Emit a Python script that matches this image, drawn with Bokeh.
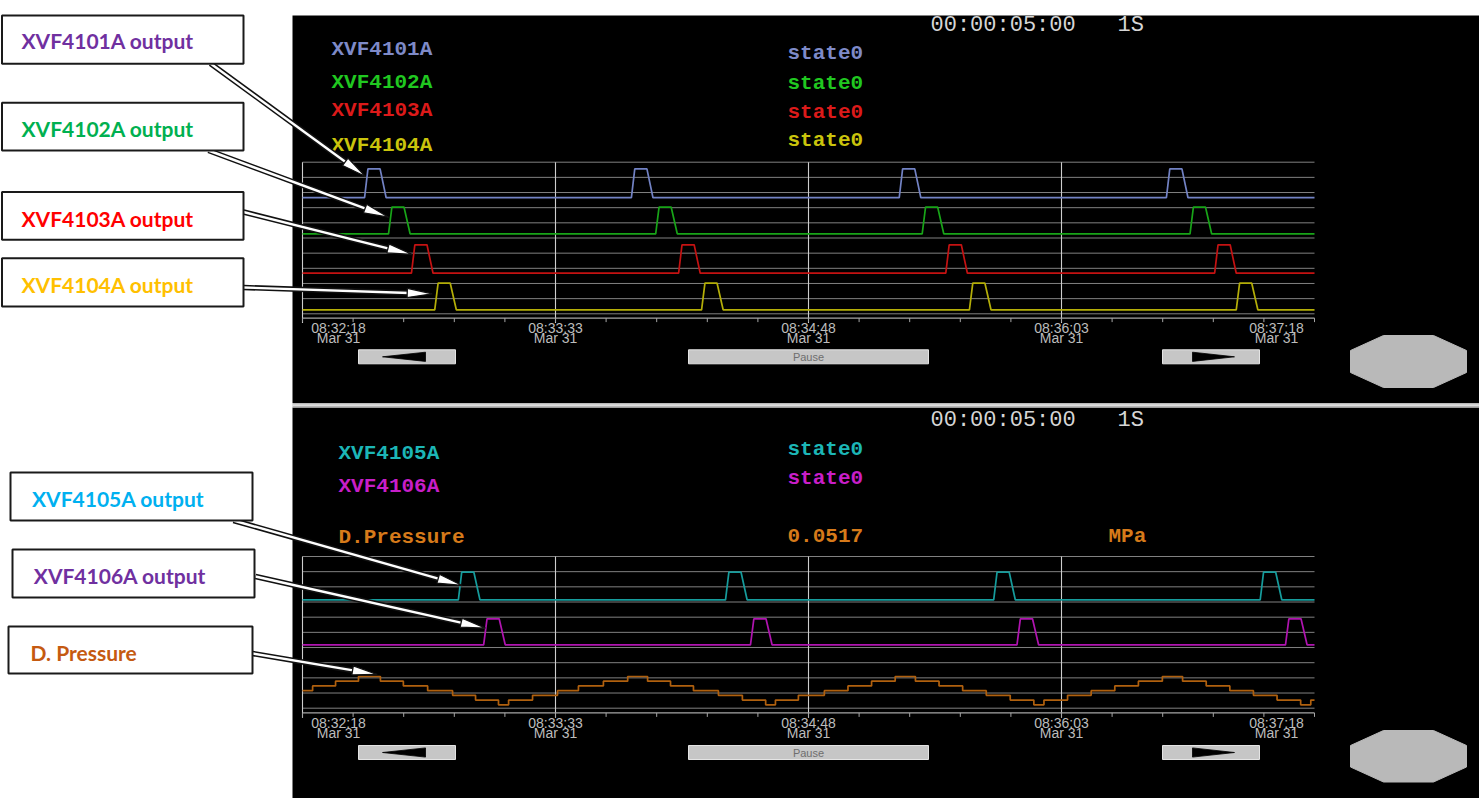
from datetime import datetime, timedelta
from bokeh.plotting import figure
from bokeh.models import Range1d, ColumnDataSource
from bokeh.core.properties import value
from bokeh.embed import file_html
from bokeh.resources import INLINE

# ---------------------------------------------------------------- data
window_start = datetime(2024, 3, 31, 8, 32, 18)
window_seconds = 300
clock_text = "00:00:05:00"
rate_text = "1S"

minor_tick_seconds = [0, 15, 30, 45, 60, 75, 90, 105, 120, 135, 150, 165, 180,
                      195, 210, 225, 240, 255, 270, 285, 300]
major_tick_seconds = [0, 75, 150, 225, 300]
major_time_labels = ["08:32:18", "08:33:33", "08:34:48", "08:36:03", "08:37:18"]
major_date_labels = ["Mar 31", "Mar 31", "Mar 31", "Mar 31", "Mar 31"]

top_pen_names = ["XVF4101A", "XVF4102A", "XVF4103A", "XVF4104A"]
top_pen_states = ["state0", "state0", "state0", "state0"]
bottom_pen_names = ["XVF4105A", "XVF4106A"]
bottom_pen_states = ["state0", "state0"]
pressure_name = "D.Pressure"
pressure_current = "0.0517"
pressure_unit = "MPa"

callout_labels = ["XVF4101A output", "XVF4102A output", "XVF4103A output",
                  "XVF4104A output", "XVF4105A output", "XVF4106A output",
                  "D. Pressure"]

# valve outputs: seconds after window start, and on/off state
pulse_states = [0, 0, 1, 1, 0, 0, 1, 1, 0, 0, 1, 1, 0, 0, 1, 1, 0, 0]
xvf4101a_t = [0, 18.4, 19.4, 23.0, 24.8, 97.5, 98.5, 102.1, 103.9, 176.9, 177.9,
              181.5, 183.3, 256.1, 257.1, 260.7, 262.5, 300]
xvf4102a_t = [0, 25.5, 26.5, 30.1, 31.9, 104.7, 105.7, 109.3, 111.1, 183.7, 184.7,
              188.3, 190.1, 263.1, 264.1, 267.7, 269.5, 300]
xvf4103a_t = [0, 32.3, 33.3, 36.9, 38.7, 111.5, 112.5, 116.1, 117.9, 190.7, 191.7,
              195.3, 197.1, 270.4, 271.4, 275.0, 276.8, 300]
xvf4104a_t = [0, 39.2, 40.2, 43.8, 45.6, 118.3, 119.3, 122.9, 124.7, 197.7, 198.7,
              202.3, 204.1, 276.8, 277.8, 281.4, 283.2, 300]
xvf4105a_t = [0, 46.2, 47.2, 50.8, 52.6, 125.4, 126.4, 130.0, 131.8, 204.9, 205.9,
              209.5, 211.3, 283.9, 284.9, 288.5, 290.3, 300]
xvf4106a_t = [0, 53.7, 54.7, 58.3, 60.1, 132.8, 133.8, 137.4, 139.2, 211.8, 212.8,
              216.4, 218.2, 291.4, 292.4, 296.0, 297.8, 300]

# differential pressure (MPa), step changes
pressure_t = [0, 3.0, 9.8, 16.6, 23.1, 29.9, 37.1, 44.5, 51.3, 58.1,
              61.1, 68.2, 75.6, 81.8, 89.2, 96.4, 102.3, 109.1, 115.9, 123.3, 130.4, 137.3,
              140.2, 147.0, 154.7, 161.7, 168.7, 175.7, 181.7, 188.7, 195.7, 202.7, 209.8, 216.8,
              219.8, 226.8, 233.8, 240.8, 247.8, 254.9, 260.9, 267.9, 274.9, 281.9, 288.9, 295.9,
              298.9, 300]
pressure_mpa = [0.0518, 0.0520, 0.0522, 0.0524, 0.0522, 0.0520, 0.0518, 0.0516, 0.0514, 0.0512,
                0.0514, 0.0516, 0.0518, 0.0520, 0.0522, 0.0524, 0.0522, 0.0520, 0.0518, 0.0516, 0.0514, 0.0512,
                0.0514, 0.0516, 0.0518, 0.0520, 0.0522, 0.0524, 0.0522, 0.0520, 0.0518, 0.0516, 0.0514, 0.0512,
                0.0514, 0.0516, 0.0518, 0.0520, 0.0522, 0.0524, 0.0522, 0.0520, 0.0518, 0.0516, 0.0514, 0.0512,
                0.0514, 0.0514]

# ---------------------------------------------------------------- layout / style
W, H = 1479, 798
OX, OY = 0, 0                       # canvas pixel of the figure's top-left corner
T_PX0, T_PX1 = 302.0, 1314.0        # trend time axis extent (px)
MONO = value("Liberation Mono")
SANS = value("Liberation Sans")
CALLOUT_FONT = value("Lato")

PANELS = {
    "top": dict(grid_top=161.7, grid_bot=313.3, axis=317.6, tick_end=321.6, vline_end=322.5,
                lab1=327.0, lab2=337.5, btn_top=349.3, btn_bot=363.3,
                oct_top=335.0, oct_bot=387.0, clock=25.0),
    "bot": dict(grid_top=556.0, grid_bot=707.7, axis=712.4, tick_end=716.4, vline_end=717.3,
                lab1=722.0, lab2=732.5, btn_top=745.0, btn_bot=759.0,
                oct_top=730.0, oct_bot=781.5, clock=420.0),
}
PEN_STYLE = {   # name: (panel px for state 0, px for state 1, line colour, text colour)
    "XVF4101A": (197.2, 168.4, "#7282c4", "#7e8ac8"),
    "XVF4102A": (233.3, 206.7, "#18a418", "#20c820"),
    "XVF4103A": (272.7, 244.3, "#c41212", "#dc1a1a"),
    "XVF4104A": (309.3, 282.7, "#b4ae08", "#cac40c"),
    "XVF4105A": (599.3, 571.7, "#169c9c", "#1cb6b6"),
    "XVF4106A": (644.3, 618.3, "#b014b0", "#c81ec8"),
}
PRESSURE_PX = (0.0512, 704.3, 0.0524, 676.0)
PRESSURE_LINE = "#b0600e"
PRESSURE_TEXT = "#d67a1a"


def tt(seconds):
    return [window_start + timedelta(seconds=s) for s in seconds]


def pen_range(v_lo, px_lo, v_hi, px_hi):
    k = (v_hi - v_lo) / (px_lo - px_hi)
    return Range1d(start=v_lo - (OY + H - px_lo) * k, end=v_lo + (px_lo - OY) * k)


sx = (T_PX1 - T_PX0) / window_seconds
time_range = Range1d(start=window_start + timedelta(seconds=-(T_PX0 - OX) / sx),
                     end=window_start + timedelta(seconds=window_seconds + (OX + W - T_PX1) / sx))

p = figure(width=W, height=H, output_backend="svg", toolbar_location=None,
           x_range=Range1d(OX, OX + W), y_range=Range1d(OY + H, OY),
           x_axis_type=None, y_axis_type=None, min_border=0,
           background_fill_color="white", border_fill_color="white",
           outline_line_color=None)
p.extra_x_ranges = {"time": time_range}
extra_y = {}
for name, (px0, px1, _, _) in PEN_STYLE.items():
    extra_y[name] = pen_range(0, px0, 1, px1)
extra_y["pressure"] = pen_range(*PRESSURE_PX)
for key, g in PANELS.items():
    extra_y["grid_" + key] = pen_range(0, g["grid_bot"], 10, g["grid_top"])
p.extra_y_ranges = extra_y

# ---- black HMI panels and separator
p.quad(left=[292, 292], right=[1480, 1480], top=[15, 407], bottom=[402.5, 800],
       fill_color="black", line_color=None)
p.quad(left=[292], right=[1480], top=[402.5], bottom=[407], fill_color="#b8b8b8", line_color=None)
p.segment(x0=[292], x1=[1480], y0=[404.6], y1=[404.6], line_color="#ececec", line_width=1.2)

t_all = tt([0, window_seconds])
for key, g in PANELS.items():
    # horizontal grid
    p.segment(x0=[t_all[0]] * 11, x1=[t_all[1]] * 11, y0=list(range(11)), y1=list(range(11)),
              x_range_name="time", y_range_name="grid_" + key,
              line_color="#808080", line_width=1)
    # vertical grid at major ticks (except the right end)
    vt = tt(major_tick_seconds[:-1])
    p.segment(x0=vt, x1=vt, y0=[g["grid_top"]] * len(vt), y1=[g["vline_end"]] * len(vt),
              x_range_name="time", line_color="#cdcdcd", line_width=1.1)
    # axis line and ticks
    p.segment(x0=[t_all[0]], x1=[t_all[1]], y0=[g["axis"]], y1=[g["axis"]],
              x_range_name="time", line_color="#a6a6a6", line_width=1.2)
    mt = tt(minor_tick_seconds)
    p.segment(x0=mt, x1=mt, y0=[g["axis"]] * len(mt), y1=[g["tick_end"]] * len(mt),
              x_range_name="time", line_color="#a6a6a6", line_width=1)
    # tick labels
    lab = ColumnDataSource(dict(x=tt(major_tick_seconds),
                                y1=[g["lab1"]] * 5, y2=[g["lab2"]] * 5,
                                t1=major_time_labels, t2=major_date_labels,
                                dx=[36, 0, 0, 0, -38]))
    for ycol, tcol in (("y1", "t1"), ("y2", "t2")):
        p.text(x="x", y=ycol, text=tcol, x_offset="dx", source=lab, x_range_name="time",
               text_font=SANS, text_font_size="14px", text_color="#bcbcbc",
               text_align="center", text_baseline="middle")
    # clock / sample rate
    p.text(x=[930, 1117], y=[g["clock"]] * 2, text=[clock_text, rate_text],
           text_font=MONO, text_font_size="22px", text_color="#d6d6d6",
           text_align="left", text_baseline="middle")
    # buttons
    bt, bb = g["btn_top"], g["btn_bot"]
    p.quad(left=[358, 688, 1162], right=[455, 928, 1259], top=[bt] * 3, bottom=[bb] * 3,
           fill_color="#c6c6c6", line_color="#e4e4e4", line_width=1)
    cy = (bt + bb) / 2
    p.patches(xs=[[382, 425, 425], [1234, 1192, 1192]],
              ys=[[cy, cy - 4.6, cy + 4.6], [cy, cy - 4.6, cy + 4.6]],
              fill_color="black", line_color="black", line_width=0.8)
    p.text(x=[808], y=[cy + 0.5], text=["Pause"], text_font=SANS, text_font_size="11px",
           text_color="#6e6e6e", text_align="center", text_baseline="middle")
    # octagon button
    ot, ob = g["oct_top"], g["oct_bot"]
    p.patch(x=[1383, 1433, 1466, 1466, 1433, 1383, 1350, 1350],
            y=[ot, ot, ot + 15, ob - 15, ob, ob, ob - 15, ot + 15],
            fill_color="#b9b9b9", line_color="#b9b9b9")

# ---- pens
series_t = {"XVF4101A": xvf4101a_t, "XVF4102A": xvf4102a_t, "XVF4103A": xvf4103a_t,
            "XVF4104A": xvf4104a_t, "XVF4105A": xvf4105a_t, "XVF4106A": xvf4106a_t}
for name, ts in series_t.items():
    p.line(x=tt(ts), y=pulse_states, x_range_name="time", y_range_name=name,
           line_color=PEN_STYLE[name][2], line_width=1.7)
p.step(x=tt(pressure_t), y=pressure_mpa, mode="after", x_range_name="time",
       y_range_name="pressure", line_color=PRESSURE_LINE, line_width=1.7)

# ---- pen legends
LEG = dict(text_font=MONO, text_font_style="bold", text_font_size="21px",
           text_baseline="middle", text_align="left")
p.text(x=[331] * 4, y=[48.5, 82.0, 110.0, 145.0], text=top_pen_names,
       text_color=[PEN_STYLE[n][3] for n in top_pen_names], **LEG)
p.text(x=[787] * 4, y=[53.0, 83.0, 111.5, 139.5], text=top_pen_states,
       text_color=[PEN_STYLE[n][3] for n in top_pen_names], **LEG)
p.text(x=[338] * 2, y=[452.5, 485.5], text=bottom_pen_names,
       text_color=[PEN_STYLE[n][3] for n in bottom_pen_names], **LEG)
p.text(x=[787] * 2, y=[448.5, 478.0], text=bottom_pen_states,
       text_color=[PEN_STYLE[n][3] for n in bottom_pen_names], **LEG)
p.text(x=[338, 787, 1108], y=[537.0, 534.5, 535.5],
       text=[pressure_name, pressure_current, pressure_unit], text_color=PRESSURE_TEXT, **LEG)

# ---- call-out arrows (double line with open head)
ARROWS = [((210, 63), (365, 176)), ((208, 150), (388, 216.7)), ((243, 211.5), (411.7, 254)),
          ((243, 287), (431.7, 293.3)), ((233, 520), (461.7, 585)), ((255, 576), (485, 627.7)),
          ((252, 653), (376.7, 674))]
HEAD_L, HEAD_W = 25.0, 4.6
sx0, sy0, sx1, sy1, hx, hy = [], [], [], [], [], []
for (x0, y0), (x1, y1) in ARROWS:
    dx, dy = x1 - x0, y1 - y0
    n = (dx * dx + dy * dy) ** 0.5
    ux, uy = dx / n, dy / n
    bx, by = x1 - HEAD_L * ux, y1 - HEAD_L * uy
    sx0.append(x0); sy0.append(y0); sx1.append(bx + 2 * ux); sy1.append(by + 2 * uy)
    hx.append([x1, bx - HEAD_W * uy, bx + HEAD_W * uy])
    hy.append([y1, by + HEAD_W * ux, by - HEAD_W * ux])
p.segment(x0=sx0, y0=sy0, x1=sx1, y1=sy1, line_color="#111111", line_width=5.5)
p.segment(x0=sx0, y0=sy0, x1=sx1, y1=sy1, line_color="white", line_width=2.4)
p.patches(xs=hx, ys=hy, fill_color="white", line_color="#111111", line_width=1.3)

# ---- call-out boxes
p.quad(left=[1.5, 1.5, 1.5, 1.5, 10, 12, 8], right=[243, 243, 243, 243, 252, 254, 252],
       top=[15, 102.3, 191.5, 257.7, 472, 549, 626],
       bottom=[63.3, 150, 239.3, 306, 520, 597, 673],
       fill_color="white", line_color="#1a1a1a", line_width=2)
p.text(x=[21, 21, 21, 21, 31.5, 33.3, 30], y=[39.5, 127.8, 217.5, 284.2, 497.5, 574.8, 651.8],
       text=callout_labels,
       text_color=["#7030a0", "#00b050", "#ff0000", "#ffc000", "#00b0f0", "#7030a0", "#c55a11"],
       text_font=CALLOUT_FONT, text_font_style="bold", text_font_size="21px",
       text_baseline="middle", text_align="left")

open("out.html", "w").write(file_html(p, INLINE))
